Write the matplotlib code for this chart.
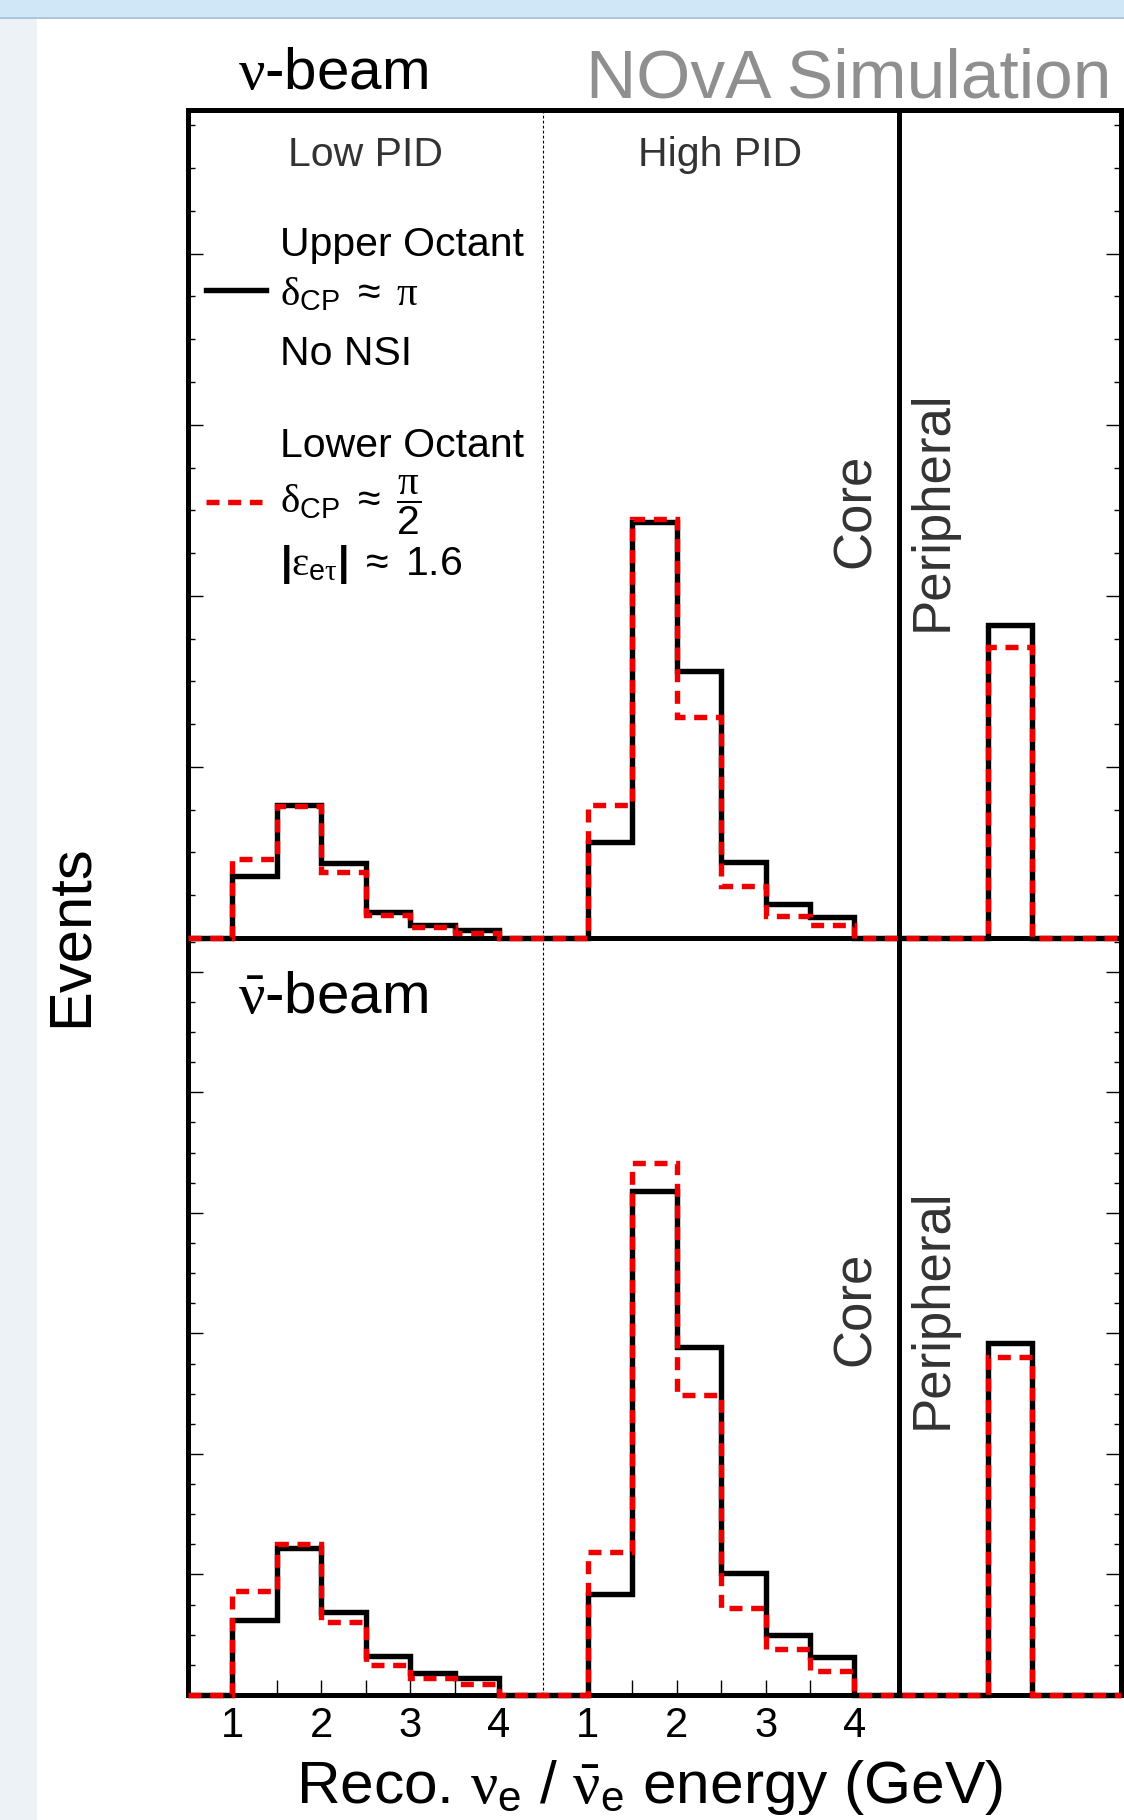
import numpy as np
import matplotlib
matplotlib.use("Agg")
import matplotlib.pyplot as plt
from matplotlib.patches import Rectangle
from matplotlib.lines import Line2D
from matplotlib.ticker import MultipleLocator, FixedLocator, NullFormatter

plt.rcParams['font.family'] = ['Liberation Sans', 'DejaVu Sans']
plt.rcParams['mathtext.fontset'] = 'custom'
plt.rcParams['mathtext.rm'] = 'Liberation Sans'
plt.rcParams['mathtext.it'] = 'Liberation Serif'
plt.rcParams['mathtext.bf'] = 'Liberation Sans:bold'

# reco energy bin edges (GeV), same for low and high PID
energy_edges = [1.0, 1.5, 2.0, 2.5, 3.0, 3.5, 4.0]
energy_ticks = [1, 2, 3, 4]

# nu-beam (top)
nu_low_upper = [3.65, 7.78, 4.39, 1.52, 0.78, 0.49]
nu_low_lower = [4.62, 7.70, 3.84, 1.33, 0.64, 0.31]
nu_high_upper = [5.6, 24.3, 15.6, 4.45, 2.0, 1.25]
nu_high_lower = [7.8, 24.5, 12.9, 3.05, 1.3, 0.75]
nu_periph_upper = 18.3
nu_periph_lower = 17.0

# antinu-beam (bottom)
anu_low_upper = [6.25, 12.2, 6.87, 3.2, 1.86, 1.39]
anu_low_lower = [8.6, 12.56, 6.03, 2.5, 1.39, 0.89]
anu_high_upper = [8.4, 41.8, 28.9, 10.1, 5.0, 3.15]
anu_high_lower = [11.9, 44.1, 24.9, 7.2, 3.8, 2.0]
anu_periph_upper = 29.2
anu_periph_lower = 28.0

W, H = 1124, 1820


def fx(x):
    return x / W


def fy(y):
    return 1 - y / H


# layout of the combined axis: low PID | high PID | peripheral
low_off = -0.5      # E -> axis coordinate
high_off = 3.5
edges = np.arange(0, 10.51, 0.5)


def combined(low, high, periph):
    vals = np.zeros(len(edges) - 1)
    i0 = int(round((energy_edges[0] + low_off) / 0.5))
    vals[i0:i0 + len(low)] = low
    j0 = int(round((energy_edges[0] + high_off) / 0.5))
    vals[j0:j0 + len(high)] = high
    vals[18] = periph
    return vals


fig = plt.figure(figsize=(W / 100, H / 100), dpi=100)

# slide background bits
fig.add_artist(Rectangle((0, fy(17)), 1, 17 / H, transform=fig.transFigure,
                         color='#cfe7f6', lw=0, zorder=0))
fig.add_artist(Rectangle((0, fy(19)), 1, 2 / H, transform=fig.transFigure,
                         color='#aac5dc', lw=0, zorder=0))
fig.add_artist(Rectangle((0, 0), fx(37), fy(19), transform=fig.transFigure,
                         color='#edf2f7', lw=0, zorder=0))

ax_top = fig.add_axes([fx(188), fy(938), fx(1121) - fx(188), fy(110) - fy(938)])
ax_bot = fig.add_axes([fx(188), fy(1695), fx(1121) - fx(188), fy(938) - fy(1695)])
ax_top.set_zorder(2)
ax_top.patch.set_alpha(0)

panels = [
    (ax_top, combined(nu_low_upper, nu_high_upper, nu_periph_upper),
     combined(nu_low_lower, nu_high_lower, nu_periph_lower), 48.4),
    (ax_bot, combined(anu_low_upper, anu_high_upper, anu_periph_upper),
     combined(anu_low_lower, anu_high_lower, anu_periph_lower), 62.8),
]

DASH = (0, (2.4, 1.6))
LW = 3.9

for ax, upper, lower, ymax in panels:
    ax.stairs(upper, edges, color='black', lw=LW, zorder=3, clip_on=False)
    ax.stairs(lower, edges, color='#ee0000', lw=LW, linestyle=DASH,
              zorder=4, clip_on=False)
    ax.axvline(4, color='black', lw=0.8, ls=(0, (2.5, 2)), zorder=2)
    ax.axvline(8, color='black', lw=3.6, zorder=2)
    ax.set_xlim(0, 10.5)
    ax.set_ylim(0, ymax)
    for s in ax.spines.values():
        s.set_linewidth(3.6)
    ax.yaxis.set_major_locator(MultipleLocator(10))
    ax.yaxis.set_minor_locator(MultipleLocator(2.5))
    ax.tick_params(axis='y', which='both', direction='in', left=True,
                   right=True, labelleft=False, width=1.0)
    ax.tick_params(axis='y', which='major', length=11)
    ax.tick_params(axis='y', which='minor', length=5)

ax_top.tick_params(axis='x', which='both', bottom=False, top=False,
                   labelbottom=False)

major_pos = [e + low_off for e in energy_ticks] + [e + high_off for e in energy_ticks]
minor_pos = [e + 0.5 + low_off for e in energy_ticks[:-1]] + \
            [e + 0.5 + high_off for e in energy_ticks[:-1]]
ax_bot.xaxis.set_major_locator(FixedLocator(major_pos))
ax_bot.xaxis.set_minor_locator(FixedLocator(minor_pos))
ax_bot.set_xticklabels([str(e) for e in energy_ticks] * 2)
ax_bot.xaxis.set_minor_formatter(NullFormatter())
ax_bot.tick_params(axis='x', which='both', direction='in', length=11,
                   width=1.0, top=False, labelsize=30, pad=8)

# region labels
for x, s in [(366, 'Low PID'), (720, 'High PID')]:
    fig.text(fx(x), fy(166), s, ha='center', va='baseline', fontsize=29.5,
             color='#333333')
for yc in [511, 1309]:
    fig.text(fx(870), fy(yc), 'Core', rotation=90, rotation_mode='anchor',
             ha='center', va='baseline', fontsize=38, color='#333333')
    fig.text(fx(947), fy(yc), 'Peripheral', rotation=90, rotation_mode='anchor',
             ha='center', va='baseline', fontsize=38, color='#333333')

# titles
fig.text(fx(238), fy(89), r'$\nu$-beam', ha='left', va='baseline', fontsize=42)
fig.text(fx(1111), fy(98), 'NOvA Simulation', ha='right', va='baseline',
         fontsize=50, color='#8f8f8f')
fig.text(fx(238), fy(1013), r'$\bar{\nu}$-beam', ha='left', va='baseline',
         fontsize=42)

# legend
fs = 29.5
fig.text(fx(280), fy(256), 'Upper Octant', va='baseline', fontsize=fs)
fig.text(fx(280), fy(305), r'$\delta_{\rm CP}\ \approx\ \pi$', va='baseline',
         fontsize=fs)
fig.text(fx(280), fy(365), 'No NSI', va='baseline', fontsize=fs)
fig.text(fx(280), fy(457), 'Lower Octant', va='baseline', fontsize=fs)
fig.text(fx(280), fy(513), r'$\delta_{\rm CP}\ \approx\ \dfrac{\pi}{2}$',
         va='baseline', fontsize=fs)
fig.text(fx(280), fy(575), r'$\mathbf{|}\varepsilon_{{\rm e}\tau}\mathbf{|}\ \approx\ $1.6',
         va='baseline', fontsize=fs)
fig.add_artist(Line2D([fx(206), fx(266)], [fy(290), fy(290)], color='black',
                      lw=LW, transform=fig.transFigure))
fig.add_artist(Line2D([fx(206), fx(262)], [fy(502), fy(502)], color='#ee0000',
                      lw=LW, ls=DASH, transform=fig.transFigure))

# axis titles
fig.text(fx(87), fy(936), 'Events', rotation=90, rotation_mode='anchor',
         ha='center', va='baseline', fontsize=43)
fig.text(fx(650), fy(1803),
         r'Reco. $\nu_{\rm e}$ / $\bar{\nu}_{\rm e}$ energy (GeV)',
         ha='center', va='baseline', fontsize=43.5)

fig.savefig('out.png', dpi=100, facecolor='white')
